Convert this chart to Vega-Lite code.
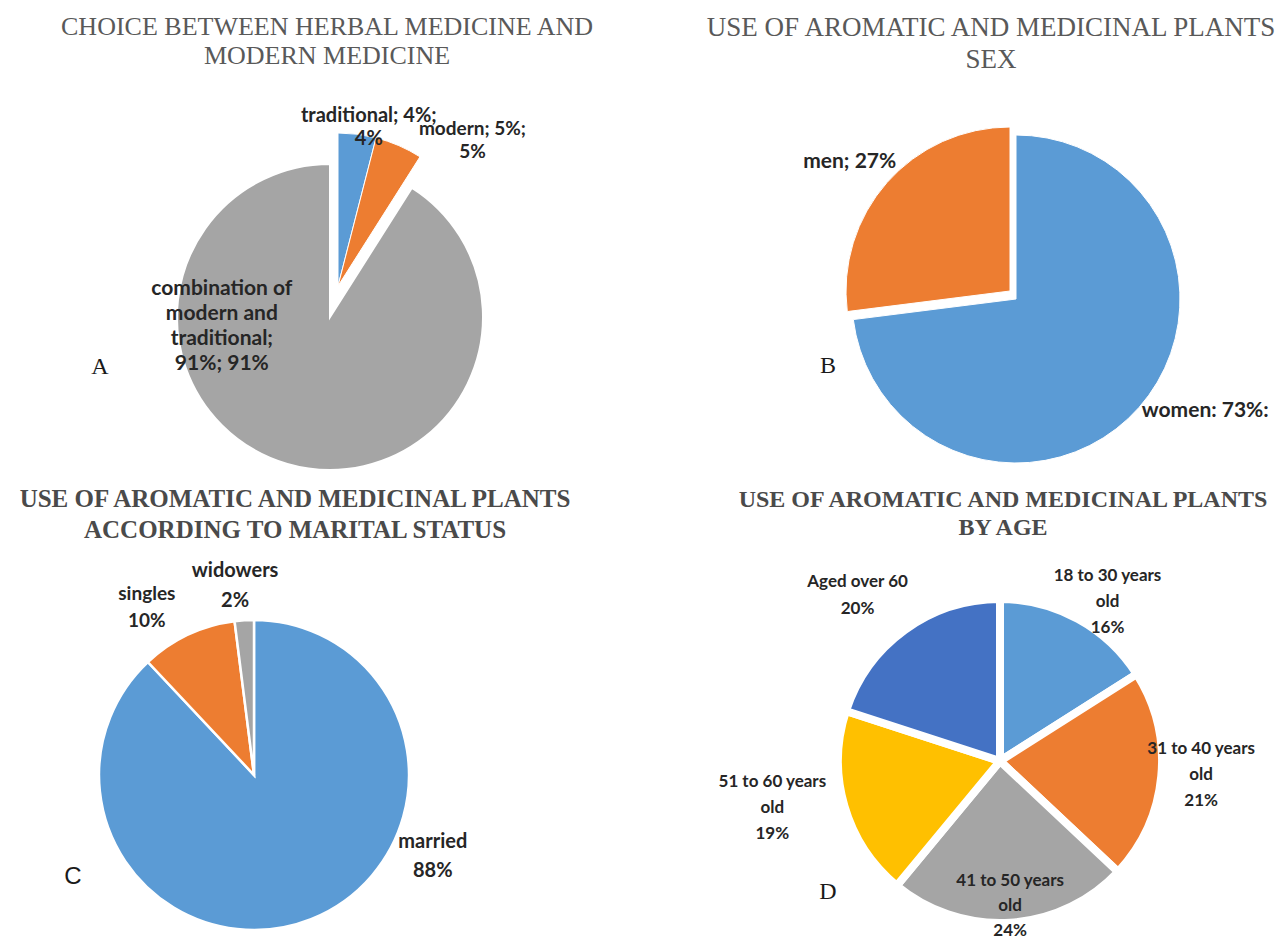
{
  "$schema": "https://vega.github.io/schema/vega-lite/v6.json",
  "background": "white",
  "padding": {"left": 0, "top": 14, "right": 0, "bottom": 0},
  "config": {"view": {"stroke": null}},
  "spacing": 44,
  "resolve": {"scale": {"color": "independent", "theta": "independent"}},
  "hconcat": [
    {
      "spacing": 64,
      "bounds": "flush",
      "resolve": {"scale": {"color": "independent", "theta": "independent"}},
      "vconcat": [
        {
          "width": 660,
          "height": 476,
          "title": {"text": ["CHOICE BETWEEN HERBAL MEDICINE AND", "MODERN MEDICINE"], "font": "Liberation Serif", "fontSize": 26, "fontWeight": "normal", "color": "#595959", "lineHeight": 29, "baseline": "bottom", "offset": -16, "dx": -3, "frame": "group", "anchor": "middle"},
          "data": {"values": [
            {"cat": "traditional", "pct": 4, "label": "traditional; 4%;\n4%"},
            {"cat": "modern", "pct": 5, "label": "modern; 5%;\n5%"},
            {"cat": "combination of modern and traditional", "pct": 91, "label": "combination of\nmodern and\ntraditional;\n91%; 91%"}
          ]},
          "transform": [
            {"window": [{"op": "row_number", "as": "o"}]},
            {"stack": "pct", "groupby": [], "sort": [{"field": "o", "order": "ascending"}], "as": ["t0", "t1"]}
          ],
          "layer": [
            {
              "transform": [{"filter": "datum.cat === 'combination of modern and traditional'"}],
              "mark": {"type": "arc", "outerRadius": 153, "stroke": "white", "strokeWidth": 2},
              "encoding": {
                "theta": {"field": "t0", "type": "quantitative", "scale": {"domain": [0, 100]}},
                "theta2": {"field": "t1"},
                "color": {"field": "cat", "type": "nominal", "legend": null, "scale": {"domain": ["traditional", "modern", "combination of modern and traditional"], "range": ["#5B9BD5", "#ED7D31", "#A5A5A5"]}}
              }
            },
            {
              "transform": [{"filter": "datum.cat !== 'combination of modern and traditional'"}],
              "mark": {"type": "arc", "outerRadius": 153, "xOffset": 8, "yOffset": -31, "stroke": "white", "strokeWidth": 1},
              "encoding": {
                "theta": {"field": "t0", "type": "quantitative", "scale": {"domain": [0, 100]}},
                "theta2": {"field": "t1"},
                "color": {"field": "cat", "type": "nominal", "legend": null, "scale": {"domain": ["traditional", "modern", "combination of modern and traditional"], "range": ["#5B9BD5", "#ED7D31", "#A5A5A5"]}}
              }
            },
            {
              "transform": [{"filter": "datum.cat === 'traditional'"}, {"fold": ["t0", "t1"], "as": ["edge", "ang"]}, {"aggregate": [{"op": "mean", "field": "ang", "as": "mid"}], "groupby": ["label"]}],
              "mark": {"type": "text", "radius": 190, "dx": 15, "dy": -12, "font": "Lato", "fontSize": 20, "fontWeight": "bold", "color": "#262626", "lineBreak": "\n", "lineHeight": 23, "align": "center", "baseline": "middle"},
              "encoding": {"theta": {"field": "mid", "type": "quantitative", "scale": {"domain": [0, 100]}}, "text": {"field": "label"}}
            },
            {
              "transform": [{"filter": "datum.cat === 'modern'"}, {"fold": ["t0", "t1"], "as": ["edge", "ang"]}, {"aggregate": [{"op": "mean", "field": "ang", "as": "mid"}], "groupby": ["label"]}],
              "mark": {"type": "text", "radius": 200, "dx": 63, "dy": -4, "font": "Lato", "fontSize": 19, "fontWeight": "bold", "color": "#262626", "lineBreak": "\n", "lineHeight": 23, "align": "center", "baseline": "middle"},
              "encoding": {"theta": {"field": "mid", "type": "quantitative", "scale": {"domain": [0, 100]}}, "text": {"field": "label"}}
            },
            {
              "transform": [{"filter": "datum.cat === 'combination of modern and traditional'"}, {"fold": ["t0", "t1"], "as": ["edge", "ang"]}, {"aggregate": [{"op": "mean", "field": "ang", "as": "mid"}], "groupby": ["label"]}],
              "mark": {"type": "text", "radius": 40, "dx": -97, "dy": -66, "font": "Lato", "fontSize": 21, "fontWeight": "bold", "color": "#262626", "lineBreak": "\n", "lineHeight": 25, "align": "center", "baseline": "middle"},
              "encoding": {"theta": {"field": "mid", "type": "quantitative", "scale": {"domain": [0, 100]}}, "text": {"field": "label"}}
            },
            {
              "data": {"values": [{"letter": "A"}]},
              "mark": {"type": "text", "dx": -230, "dy": 50, "font": "Liberation Serif", "fontSize": 24, "color": "#1a1a1a", "align": "center", "baseline": "middle"},
              "encoding": {"text": {"field": "letter"}}
            }
          ]
        },
        {
          "width": 508,
          "height": 312,
          "title": {"text": ["USE OF AROMATIC AND MEDICINAL PLANTS", "ACCORDING TO MARITAL STATUS"], "font": "Liberation Serif", "fontSize": 25, "fontWeight": "bold", "color": "#4a4a4a", "lineHeight": 31, "baseline": "bottom", "offset": -7, "dx": 41, "frame": "group", "anchor": "middle"},
          "data": {"values": [
            {"cat": "married", "pct": 88, "label": "married\n88%"},
            {"cat": "singles", "pct": 10, "label": "singles\n10%"},
            {"cat": "widowers", "pct": 2, "label": "widowers\n2%"}
          ]},
          "transform": [
            {"window": [{"op": "row_number", "as": "o"}]},
            {"stack": "pct", "groupby": [], "sort": [{"field": "o", "order": "ascending"}], "as": ["t0", "t1"]}
          ],
          "layer": [
            {
              "mark": {"type": "arc", "outerRadius": 155, "stroke": "white", "strokeWidth": 2.5},
              "encoding": {
                "theta": {"field": "t0", "type": "quantitative", "scale": {"domain": [0, 100]}},
                "theta2": {"field": "t1"},
                "color": {"field": "cat", "type": "nominal", "legend": null, "scale": {"domain": ["married", "singles", "widowers"], "range": ["#5B9BD5", "#ED7D31", "#A5A5A5"]}}
              }
            },
            {
              "transform": [{"filter": "datum.cat === 'married'"}, {"fold": ["t0", "t1"], "as": ["edge", "ang"]}, {"aggregate": [{"op": "mean", "field": "ang", "as": "mid"}], "groupby": ["label"]}],
              "mark": {"type": "text", "radius": 100, "dx": 142, "dy": -26, "font": "Lato", "fontSize": 20, "fontWeight": "bold", "color": "#262626", "lineBreak": "\n", "lineHeight": 29, "align": "center", "baseline": "middle"},
              "encoding": {"theta": {"field": "mid", "type": "quantitative", "scale": {"domain": [0, 100]}}, "text": {"field": "label"}}
            },
            {
              "transform": [{"filter": "datum.cat === 'singles'"}, {"fold": ["t0", "t1"], "as": ["edge", "ang"]}, {"aggregate": [{"op": "mean", "field": "ang", "as": "mid"}], "groupby": ["label"]}],
              "mark": {"type": "text", "radius": 200, "dx": -22, "dy": 0, "font": "Lato", "fontSize": 19, "fontWeight": "bold", "color": "#262626", "lineBreak": "\n", "lineHeight": 27, "align": "center", "baseline": "middle"},
              "encoding": {"theta": {"field": "mid", "type": "quantitative", "scale": {"domain": [0, 100]}}, "text": {"field": "label"}}
            },
            {
              "transform": [{"filter": "datum.cat === 'widowers'"}, {"fold": ["t0", "t1"], "as": ["edge", "ang"]}, {"aggregate": [{"op": "mean", "field": "ang", "as": "mid"}], "groupby": ["label"]}],
              "mark": {"type": "text", "radius": 190, "dx": -7, "dy": -14, "font": "Lato", "fontSize": 20, "fontWeight": "bold", "color": "#262626", "lineBreak": "\n", "lineHeight": 30, "align": "center", "baseline": "middle"},
              "encoding": {"theta": {"field": "mid", "type": "quantitative", "scale": {"domain": [0, 100]}}, "text": {"field": "label"}}
            },
            {
              "data": {"values": [{"letter": "C"}]},
              "mark": {"type": "text", "dx": -181, "dy": 102, "font": "Liberation Sans", "fontSize": 24, "color": "#1a1a1a", "align": "center", "baseline": "middle"},
              "encoding": {"text": {"field": "letter"}}
            }
          ]
        }
      ]
    },
    {
      "spacing": 100,
      "bounds": "flush",
      "resolve": {"scale": {"color": "independent", "theta": "independent"}},
      "vconcat": [
        {
          "width": 524,
          "height": 440,
          "title": {"text": ["USE OF AROMATIC AND MEDICINAL PLANTS", "SEX"], "font": "Liberation Serif", "fontSize": 27, "fontWeight": "normal", "color": "#595959", "lineHeight": 32, "baseline": "bottom", "offset": -22, "dx": -25, "frame": "group", "anchor": "middle"},
          "data": {"values": [
            {"cat": "women", "pct": 73, "label": "women: 73%:"},
            {"cat": "men", "pct": 27, "label": "men; 27%"}
          ]},
          "transform": [
            {"window": [{"op": "row_number", "as": "o"}]},
            {"stack": "pct", "groupby": [], "sort": [{"field": "o", "order": "ascending"}], "as": ["t0", "t1"]}
          ],
          "layer": [
            {
              "transform": [{"filter": "datum.cat === 'women'"}],
              "mark": {"type": "arc", "outerRadius": 164, "stroke": "white", "strokeWidth": 1},
              "encoding": {
                "theta": {"field": "t0", "type": "quantitative", "scale": {"domain": [0, 100]}},
                "theta2": {"field": "t1"},
                "color": {"field": "cat", "type": "nominal", "legend": null, "scale": {"domain": ["women", "men"], "range": ["#5B9BD5", "#ED7D31"]}}
              }
            },
            {
              "transform": [{"filter": "datum.cat === 'men'"}],
              "mark": {"type": "arc", "outerRadius": 164, "xOffset": -6, "yOffset": -8, "stroke": "white", "strokeWidth": 1},
              "encoding": {
                "theta": {"field": "t0", "type": "quantitative", "scale": {"domain": [0, 100]}},
                "theta2": {"field": "t1"},
                "color": {"field": "cat", "type": "nominal", "legend": null, "scale": {"domain": ["women", "men"], "range": ["#5B9BD5", "#ED7D31"]}}
              }
            },
            {
              "transform": [{"filter": "datum.cat === 'men'"}, {"fold": ["t0", "t1"], "as": ["edge", "ang"]}, {"aggregate": [{"op": "mean", "field": "ang", "as": "mid"}], "groupby": ["label"]}],
              "mark": {"type": "text", "radius": 215, "dx": -5, "dy": 5, "font": "Lato", "fontSize": 21, "fontWeight": "bold", "color": "#262626", "align": "center", "baseline": "middle"},
              "encoding": {"theta": {"field": "mid", "type": "quantitative", "scale": {"domain": [0, 100]}}, "text": {"field": "label"}}
            },
            {
              "transform": [{"filter": "datum.cat === 'women'"}, {"fold": ["t0", "t1"], "as": ["edge", "ang"]}, {"aggregate": [{"op": "mean", "field": "ang", "as": "mid"}], "groupby": ["label"]}],
              "mark": {"type": "text", "radius": 215, "dx": 28, "dy": -30, "font": "Lato", "fontSize": 21, "fontWeight": "bold", "color": "#262626", "align": "center", "baseline": "middle"},
              "encoding": {"theta": {"field": "mid", "type": "quantitative", "scale": {"domain": [0, 100]}}, "text": {"field": "label"}}
            },
            {
              "data": {"values": [{"letter": "B"}]},
              "mark": {"type": "text", "dx": -188, "dy": 67, "font": "Liberation Serif", "fontSize": 24, "color": "#1a1a1a", "align": "center", "baseline": "middle"},
              "encoding": {"text": {"field": "letter"}}
            }
          ]
        },
        {
          "width": 492,
          "height": 284,
          "title": {"text": ["USE OF AROMATIC AND MEDICINAL PLANTS", "BY AGE"], "font": "Liberation Serif", "fontSize": 24, "fontWeight": "bold", "color": "#4a4a4a", "lineHeight": 28, "baseline": "bottom", "offset": 3, "dx": 3, "frame": "group", "anchor": "middle"},
          "data": {"values": [
            {"cat": "18 to 30 years old", "pct": 16, "label": "18 to 30 years\nold\n16%"},
            {"cat": "31 to 40 years old", "pct": 21, "label": "31 to 40 years\nold\n21%"},
            {"cat": "41 to 50 years old", "pct": 24, "label": "41 to 50 years\nold\n24%"},
            {"cat": "51 to 60 years old", "pct": 19, "label": "51 to 60 years\nold\n19%"},
            {"cat": "Aged over 60", "pct": 20, "label": "Aged over 60\n20%"}
          ]},
          "transform": [
            {"window": [{"op": "row_number", "as": "o"}]},
            {"stack": "pct", "groupby": [], "sort": [{"field": "o", "order": "ascending"}], "as": ["t0", "t1"]}
          ],
          "layer": [
            {
              "mark": {"type": "arc", "outerRadius": 162, "stroke": "white", "strokeWidth": 8, "strokeJoin": "round"},
              "encoding": {
                "theta": {"field": "t0", "type": "quantitative", "scale": {"domain": [0, 100]}},
                "theta2": {"field": "t1"},
                "color": {"field": "cat", "type": "nominal", "legend": null, "scale": {"domain": ["18 to 30 years old", "31 to 40 years old", "41 to 50 years old", "51 to 60 years old", "Aged over 60"], "range": ["#5B9BD5", "#ED7D31", "#A5A5A5", "#FFC000", "#4472C4"]}}
              }
            },
            {
              "transform": [{"filter": "datum.cat === '18 to 30 years old'"}, {"fold": ["t0", "t1"], "as": ["edge", "ang"]}, {"aggregate": [{"op": "mean", "field": "ang", "as": "mid"}], "groupby": ["label"]}],
              "mark": {"type": "text", "radius": 190, "dx": 16, "dy": -19, "font": "Lato", "fontSize": 17, "fontWeight": "bold", "color": "#262626", "lineBreak": "\n", "lineHeight": 26, "align": "center", "baseline": "middle"},
              "encoding": {"theta": {"field": "mid", "type": "quantitative", "scale": {"domain": [0, 100]}}, "text": {"field": "label"}}
            },
            {
              "transform": [{"filter": "datum.cat === '31 to 40 years old'"}, {"fold": ["t0", "t1"], "as": ["edge", "ang"]}, {"aggregate": [{"op": "mean", "field": "ang", "as": "mid"}], "groupby": ["label"]}],
              "mark": {"type": "text", "radius": 200, "dx": 2, "dy": -31, "font": "Lato", "fontSize": 17, "fontWeight": "bold", "color": "#262626", "lineBreak": "\n", "lineHeight": 26, "align": "center", "baseline": "middle"},
              "encoding": {"theta": {"field": "mid", "type": "quantitative", "scale": {"domain": [0, 100]}}, "text": {"field": "label"}}
            },
            {
              "transform": [{"filter": "datum.cat === '41 to 50 years old'"}, {"fold": ["t0", "t1"], "as": ["edge", "ang"]}, {"aggregate": [{"op": "mean", "field": "ang", "as": "mid"}], "groupby": ["label"]}],
              "mark": {"type": "text", "radius": 146, "dx": 1, "dy": -26, "font": "Lato", "fontSize": 17, "fontWeight": "bold", "color": "#262626", "lineBreak": "\n", "lineHeight": 25, "align": "center", "baseline": "middle"},
              "encoding": {"theta": {"field": "mid", "type": "quantitative", "scale": {"domain": [0, 100]}}, "text": {"field": "label"}}
            },
            {
              "transform": [{"filter": "datum.cat === '51 to 60 years old'"}, {"fold": ["t0", "t1"], "as": ["edge", "ang"]}, {"aggregate": [{"op": "mean", "field": "ang", "as": "mid"}], "groupby": ["label"]}],
              "mark": {"type": "text", "radius": 235, "dx": -2, "dy": -45, "font": "Lato", "fontSize": 17, "fontWeight": "bold", "color": "#262626", "lineBreak": "\n", "lineHeight": 26, "align": "center", "baseline": "middle"},
              "encoding": {"theta": {"field": "mid", "type": "quantitative", "scale": {"domain": [0, 100]}}, "text": {"field": "label"}}
            },
            {
              "transform": [{"filter": "datum.cat === 'Aged over 60'"}, {"fold": ["t0", "t1"], "as": ["edge", "ang"]}, {"aggregate": [{"op": "mean", "field": "ang", "as": "mid"}], "groupby": ["label"]}],
              "mark": {"type": "text", "radius": 210, "dx": -19, "dy": -9, "font": "Lato", "fontSize": 17, "fontWeight": "bold", "color": "#262626", "lineBreak": "\n", "lineHeight": 27, "align": "center", "baseline": "middle"},
              "encoding": {"theta": {"field": "mid", "type": "quantitative", "scale": {"domain": [0, 100]}}, "text": {"field": "label"}}
            },
            {
              "data": {"values": [{"letter": "D"}]},
              "mark": {"type": "text", "dx": -172, "dy": 131, "font": "Liberation Serif", "fontSize": 24, "color": "#1a1a1a", "align": "center", "baseline": "middle"},
              "encoding": {"text": {"field": "letter"}}
            }
          ]
        }
      ]
    }
  ]
}
